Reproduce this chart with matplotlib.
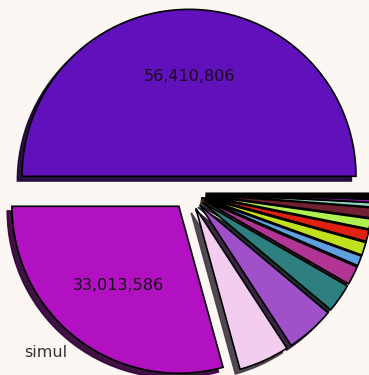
import matplotlib
matplotlib.use("Agg")
import matplotlib.pyplot as plt

# Population-style counts per group
categories = ["", "simul", "", "", "", "", "", "", "", "", "", "", "", ""]
values = [56410806, 33013586, 5547000, 5328000, 3134000, 2037000, 1097000,
          1410000, 1254000, 1097000, 1097000, 470000, 313000, 613220]
colors = ["#6111bb", "#b111c0", "#f2cdef", "#a050c8", "#2e8080", "#b03595",
          "#60a0e0", "#c0e020", "#e02010", "#b0f050", "#702030", "#90d0c0",
          "#a010c0", "#050000"]
explode = [0.1] * len(values)

# Only the large groups get their count printed inside the wedge
value_iter = iter(values)


def fmt(pct):
    v = next(value_iter)
    return f"{v:,}" if pct > 20 else ""


bg = "#fcf7f3"
fig = plt.figure(figsize=(3.69, 3.75), dpi=100, facecolor=bg)
ax = fig.add_axes([0, 0, 1, 1])
ax.set_facecolor(bg)

wedges, texts, autotexts = ax.pie(
    values, labels=categories, colors=colors, explode=explode,
    autopct=fmt, startangle=0,
    shadow=dict(ox=-0.02, oy=-0.02, shade=0.7, alpha=0.95),
    wedgeprops=dict(edgecolor="black", linewidth=1.2),
    textprops=dict(fontsize=11.5),
)
for t in texts:
    t.set_color("#333333")
for t in autotexts:
    t.set_color("#1a0a1a")

ax.set_xlim(-1.132, 1.078)
ax.set_ylim(-1.090, 1.156)
ax.set_aspect("equal")
ax.axis("off")

fig.savefig("out.png", dpi=100, facecolor=bg)
